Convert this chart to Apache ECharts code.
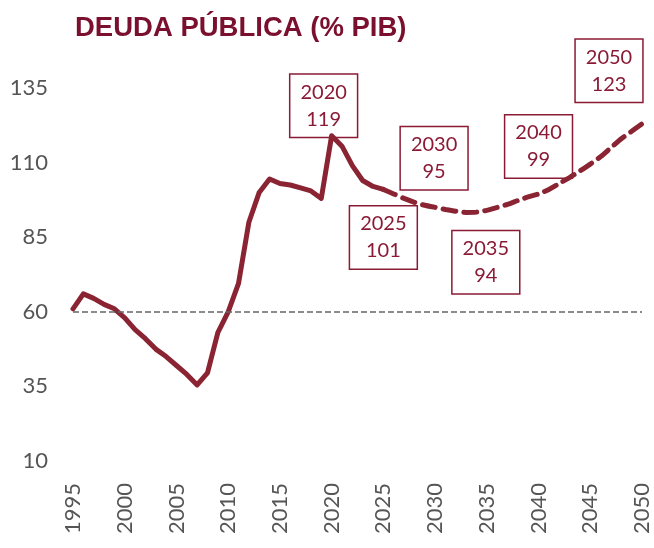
<!DOCTYPE html>
<html>
<head>
<meta charset="utf-8">
<script src="https://cdn.jsdelivr.net/npm/echarts@6/dist/echarts.min.js"></script>
<style>
html,body{margin:0;padding:0;background:#fff;}
#chart{width:654px;height:548px;}
</style>
</head>
<body>
<div id="chart"></div>
<script>
// ---- data ----
const titleText = 'DEUDA PÚBLICA (% PIB)';
const histYears = [1995,1996,1997,1998,1999,2000,2001,2002,2003,2004,2005,2006,2007,2008,2009,2010,2011,2012,2013,2014,2015,2016,2017,2018,2019,2020,2021,2022,2023,2024,2025];
const histValues = [61,66,64.5,62.5,61,58,54,51,47.5,45,42,39,35.5,39.5,53,60,69.5,90,100,104.5,103,102.5,101.5,100.5,98,119,115.5,109,104,102,101];
const projYears = [2025,2026,2027,2028,2029,2030,2031,2032,2033,2034,2035,2036,2037,2038,2039,2040,2041,2042,2043,2044,2045,2046,2047,2048,2049,2050];
const projValues = [101,99.5,98,96.7,95.7,95,94.3,93.7,93.3,93.4,94,95,96,97.3,98.5,99.5,101,103,105,107.2,109.5,112,115,118,120.5,123];
const calloutYears = [2020,2025,2030,2035,2040,2050];
const calloutValues = [119,101,95,94,99,123];
const referenceLevel = 60;
const yTicks = [10,35,60,85,110,135];
const xTicks = [1995,2000,2005,2010,2015,2020,2025,2030,2035,2040,2045,2050];

// ---- styling (not data) ----
const calloutOffsets = [[-8,-30],[0,48],[-1,-49],[-1,52],[0,-49],[-33,-53]];
const red = '#8a2433';
const textRed = '#8b1a35';

const chart = echarts.init(document.getElementById('chart'));
const option = {
  animation: false,
  backgroundColor: '#fff',
  title: {
    text: titleText,
    left: 70, top: 9,
    textStyle: {fontFamily: 'Liberation Sans', fontWeight: 'bold', fontSize: 27.5, color: '#7a0f2e'}
  },
  grid: {left: 73, right: 12, top: 88, bottom: 87, containLabel: false},
  xAxis: {
    type: 'value', min: xTicks[0], max: xTicks[xTicks.length-1], interval: 5,
    axisLine: {show: false}, axisTick: {show: false}, splitLine: {show: false},
    axisLabel: {
      rotate: 90, margin: 22, fontSize: 22, fontFamily: 'Lato', color: '#555',
      formatter: v => xTicks.indexOf(v) >= 0 ? String(v) : ''
    }
  },
  yAxis: {
    type: 'value', min: yTicks[0], max: yTicks[yTicks.length-1], interval: 5,
    axisLine: {show: false}, axisTick: {show: false}, splitLine: {show: false},
    axisLabel: {
      margin: 25, fontSize: 22, fontFamily: 'Lato', color: '#555',
      formatter: v => yTicks.indexOf(v) >= 0 ? String(v) : ''
    }
  },
  series: [
    {
      type: 'scatter', z: 1, symbolSize: 0,
      itemStyle: {opacity: 1, color: textRed},
      data: calloutYears.map((y, i) => ({
        value: [y, calloutValues[i]],
        label: {offset: calloutOffsets[i]}
      })),
      label: {
        show: true, position: 'inside', opacity: 1,
        formatter: p => p.value[0] + '\n' + p.value[1],
        fontFamily: 'Lato', fontSize: 20, color: textRed, lineHeight: 27,
        textBorderWidth: 0, textBorderColor: 'transparent',
        backgroundColor: '#fff', borderColor: textRed, borderWidth: 1.5,
        padding: [5, 10, 3, 10], align: 'center'
      },
      emphasis: {disabled: true}
    },
    {
      type: 'line', z: 3, showSymbol: false, symbol: 'none',
      data: histYears.map((y, i) => [y, histValues[i]]),
      lineStyle: {color: red, width: 5, join: 'round', cap: 'round'},
      markLine: {
        silent: true, symbol: 'none', label: {show: false},
        lineStyle: {color: '#666', type: [6, 3], width: 1.5},
        data: [{yAxis: referenceLevel}]
      }
    },
    {
      type: 'line', z: 3, showSymbol: false, symbol: 'none', smooth: 0.3,
      data: projYears.map((y, i) => [y, projValues[i]]),
      lineStyle: {color: red, width: 5, type: [13, 8], cap: 'round'}
    }
  ]
};
chart.setOption(option);
</script>
</body>
</html>
